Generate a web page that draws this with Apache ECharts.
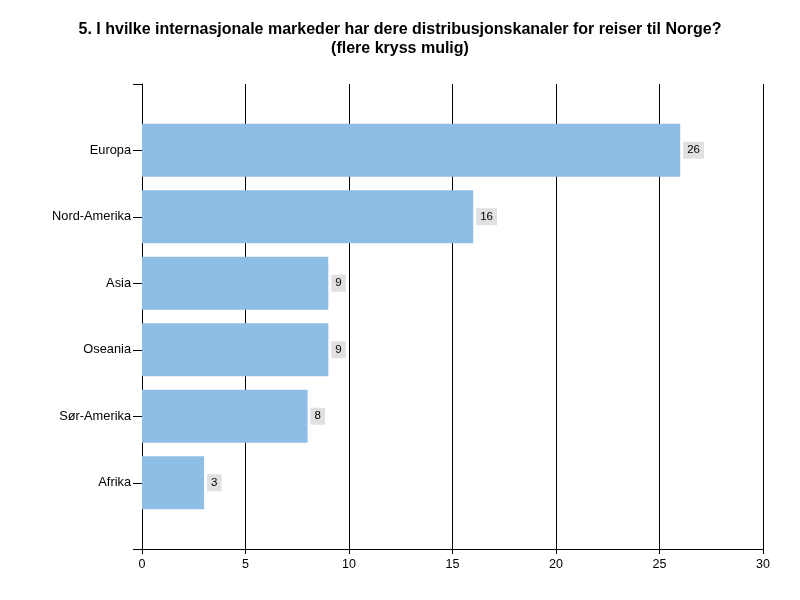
<!DOCTYPE html>
<html><head><meta charset="utf-8">
<script src="https://cdn.jsdelivr.net/npm/echarts@6/dist/echarts.min.js"></script>
<style>html,body{margin:0;padding:0;background:#fff}#c{width:800px;height:600px}</style>
</head><body><div id="c"></div>
<script>
const titleText = "5. I hvilke internasjonale markeder har dere distribusjonskanaler for reiser til Norge?\n(flere kryss mulig)";
const categories = ["Europa", "Nord-Amerika", "Asia", "Oseania", "Sør-Amerika", "Afrika"];
const values = [26, 16, 9, 9, 8, 3];
const xTicks = [0, 5, 10, 15, 20, 25, 30];

const chart = echarts.init(document.getElementById('c'), null, {renderer: 'canvas'});
const font = 'Arial, "Liberation Sans", sans-serif';
chart.setOption({
  animation: false,
  title: {
    text: titleText, left: 'center', top: 15,
    textStyle: {fontFamily: font, fontSize: 16, fontWeight: 'bold', color: '#000', lineHeight: 19}
  },
  grid: [
    {left: 142, right: 37, top: 84, bottom: 51},
    {left: 142, right: 37, top: 117, bottom: 84}
  ],
  xAxis: [
    {gridIndex: 0, type: 'value', min: xTicks[0], max: xTicks[xTicks.length-1], interval: 5,
     axisLine: {show: true, lineStyle: {color: '#000', width: 1}},
     axisTick: {show: true, length: 5, lineStyle: {color: '#000'}},
     axisLabel: {color: '#000', fontFamily: font, fontSize: 12.5, margin: 9},
     splitLine: {show: true, lineStyle: {color: '#000', width: 1}}},
    {gridIndex: 1, type: 'value', min: 0, max: 30, show: false, splitLine: {show: false}}
  ],
  yAxis: [
    {gridIndex: 0, type: 'value', min: 0, max: 1, interval: 1,
     axisLine: {show: true, lineStyle: {color: '#000'}},
     axisTick: {show: true, length: 9, lineStyle: {color: '#000'}},
     axisLabel: {show: false}, splitLine: {show: false}},
    {gridIndex: 1, type: 'category', data: categories, inverse: true,
     axisLine: {show: false},
     axisTick: {show: true, alignWithLabel: true, length: 9, lineStyle: {color: '#000'}},
     axisLabel: {color: '#000', fontFamily: font, fontSize: 12.8, margin: 11},
     splitLine: {show: false}}
  ],
  series: [{
    type: 'bar', xAxisIndex: 1, yAxisIndex: 1, data: values,
    barCategoryGap: '20%',
    itemStyle: {color: '#8EBDE6'},
    label: {show: true, position: 'right', distance: 3, color: '#000',
      fontFamily: font, fontSize: 11.5, backgroundColor: '#E0E0E0', padding: [3, 4, 2, 4]},
    z: 3
  }]
});
</script></body></html>
